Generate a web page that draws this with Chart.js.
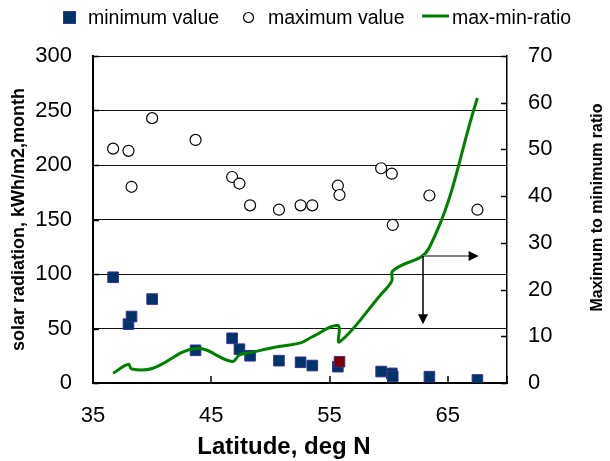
<!DOCTYPE html>
<html>
<head>
<meta charset="utf-8">
<script src="https://cdn.jsdelivr.net/npm/chart.js@4.4.1/dist/chart.umd.min.js"></script>
<style>
  body { margin: 0; background: #fff; }
</style>
</head>
<body>
<canvas id="radChart" width="610" height="461"></canvas>
<script>
// station latitudes, deg N (sorted)
const latitudes = [36.7, 38.0, 38.26, 40.0, 43.67, 46.76, 47.38, 48.28, 50.72, 52.55, 53.54, 55.7, 55.84, 59.36, 60.26, 60.34, 63.44, 67.5];
// monthly solar radiation, kWh/m2,month
const minValues = [97, 54, 61, 77, 30, 41, 31, 25, 20.5, 19, 16, 15, 19.5, 10.5, 8.8, 6.1, 5.8, 2.8];
const maxValues = [215, 213, 180, 243, 223, 189, 183, 163, 159, 163, 163, 181, 172.5, 197, 192, 145, 172, 159];
// max/min ratio as drawn (right axis)
const ratioValues = [2.1, 4.0, 3.0, 3.1, 7.4, 4.6, 6.0, 6.5, 7.8, 8.6, 9.9, 12.3, 8.8, 19.0, 21.8, 24.0, 29.0, 61.0];
const xTicks = [35, 45, 55, 65];
const highlightLat = 55.84; // red marker

// arrow annotation (data units)
const arrowFrom = { lat: 62.9, ratio: 27.2 };
const arrowRightTo = 67.6;   // lat
const arrowDownTo = 54;      // left axis value

const FONT = "'Liberation Sans', Arial, sans-serif";

const toPoints = (vals) => latitudes.map((lat, i) => ({ x: lat, y: vals[i] }));

// inward tick marks, arrows, axis titles, legend
const extras = {
    id: 'extras',
    afterDraw(chart) {
        const ctx = chart.ctx;
        const a = chart.chartArea;
        const x = chart.scales.x, y = chart.scales.y, y2 = chart.scales.y2;
        ctx.save();
        ctx.strokeStyle = '#000';
        ctx.lineWidth = 1.5;
        ctx.beginPath();
        y.ticks.forEach(t => { const p = Math.round(y.getPixelForValue(t.value)) + 0.5; ctx.moveTo(a.left, p); ctx.lineTo(a.left + 6, p); });
        y2.ticks.forEach(t => { const p = Math.round(y2.getPixelForValue(t.value)) + 0.5; ctx.moveTo(a.right - 6, p); ctx.lineTo(a.right, p); });
        xTicks.concat([70]).forEach(v => { const p = Math.round(x.getPixelForValue(v)); ctx.moveTo(p, a.bottom); ctx.lineTo(p, a.bottom - 7); });
        ctx.stroke();

        // arrows
        const ax = x.getPixelForValue(arrowFrom.lat), ay = y2.getPixelForValue(arrowFrom.ratio);
        const rx = x.getPixelForValue(arrowRightTo), dy = y.getPixelForValue(arrowDownTo);
        ctx.strokeStyle = '#808080';
        ctx.lineWidth = 2;
        ctx.beginPath(); ctx.moveTo(ax, ay); ctx.lineTo(rx - 9, ay); ctx.stroke();
        ctx.strokeStyle = '#000';
        ctx.lineWidth = 1.5;
        ctx.beginPath(); ctx.moveTo(ax, ay); ctx.lineTo(ax, dy - 9); ctx.stroke();
        ctx.fillStyle = '#000';
        ctx.beginPath(); ctx.moveTo(rx, ay); ctx.lineTo(rx - 10, ay - 5); ctx.lineTo(rx - 10, ay + 5); ctx.closePath(); ctx.fill();
        ctx.beginPath(); ctx.moveTo(ax, dy); ctx.lineTo(ax - 5, dy - 10); ctx.lineTo(ax + 5, dy - 10); ctx.closePath(); ctx.fill();

        // x axis title (sits a little left of centre)
        ctx.font = 'bold 24px ' + FONT;
        ctx.textAlign = 'center';
        ctx.textBaseline = 'middle';
        ctx.fillText('Latitude, deg N', 284, 447);

        // right axis title, reads bottom to top
        ctx.save();
        ctx.translate(598, (a.top + a.bottom) / 2 - 12);
        ctx.rotate(-Math.PI / 2);
        ctx.font = 'bold 16px ' + FONT;
        ctx.fillText('Maximum to minimum ratio', 0, 0);
        ctx.restore();

        // legend
        ctx.font = '19.5px ' + FONT;
        ctx.textBaseline = 'alphabetic';
        ctx.textAlign = 'left';
        ctx.fillStyle = '#003366';
        ctx.strokeStyle = '#333399';
        ctx.lineWidth = 1;
        ctx.fillRect(63.5, 11.5, 12, 12);
        ctx.strokeRect(63.5, 11.5, 12, 12);
        ctx.fillStyle = '#000';
        ctx.fillText('minimum value', 88, 24);
        ctx.beginPath(); ctx.arc(248.5, 17.5, 5, 0, Math.PI * 2);
        ctx.fillStyle = '#fff'; ctx.fill();
        ctx.strokeStyle = '#000'; ctx.lineWidth = 1.2; ctx.stroke();
        ctx.fillStyle = '#000';
        ctx.fillText('maximum value', 268, 24);
        ctx.strokeStyle = '#008000'; ctx.lineWidth = 3;
        ctx.beginPath(); ctx.moveTo(422, 16); ctx.lineTo(449, 16); ctx.stroke();
        ctx.fillText('max-min-ratio', 452, 24);
        ctx.restore();
    }
};

new Chart(document.getElementById('radChart').getContext('2d'), {
    type: 'scatter',
    data: {
        datasets: [{
            label: 'minimum value',
            data: toPoints(minValues),
            yAxisID: 'y',
            pointStyle: 'rect',
            pointRadius: 7.5,
            pointHoverRadius: 7.5,
            pointBackgroundColor: latitudes.map(l => l === highlightLat ? '#800000' : '#003366'),
            pointBorderColor: '#333399',
            pointBorderWidth: 1,
            order: 2
        }, {
            label: 'maximum value',
            data: toPoints(maxValues),
            yAxisID: 'y',
            pointStyle: 'circle',
            pointRadius: 5.5,
            pointBackgroundColor: '#fff',
            pointBorderColor: '#000',
            pointBorderWidth: 1.2,
            order: 1
        }, {
            label: 'max-min-ratio',
            data: toPoints(ratioValues),
            yAxisID: 'y2',
            showLine: true,
            tension: 0.4,
            borderColor: '#008000',
            borderWidth: 3,
            pointRadius: 0,
            order: 0
        }]
    },
    options: {
        responsive: false,
        animation: false,
        layout: { padding: { top: 56, left: 0, right: 0, bottom: 0 } },
        plugins: {
            legend: { display: false },
            tooltip: { enabled: false }
        },
        scales: {
            x: {
                type: 'linear',
                min: 35,
                max: 70,
                afterBuildTicks: (s) => { s.ticks = xTicks.map(v => ({ value: v })); },
                afterFit: (s) => { s.height = 78; },
                grid: { display: false, drawTicks: false },
                border: { color: '#000', width: 2 },
                ticks: { padding: 20, color: '#000', font: { family: FONT, size: 22 } }
            },
            y: {
                position: 'left',
                min: 0,
                max: 300,
                ticks: { stepSize: 50, padding: 21, color: '#000', font: { family: FONT, size: 22 } },
                afterFit: (s) => { s.width = 93; },
                grid: { color: '#111', lineWidth: 1, drawTicks: false },
                border: { color: '#000', width: 2 },
                title: {
                    display: true, text: 'solar radiation, kWh/m2,month', color: '#000',
                    padding: { top: 8, bottom: 0 }, font: { family: FONT, size: 18, weight: 'bold' }
                }
            },
            y2: {
                position: 'right',
                min: 0,
                max: 70,
                ticks: { stepSize: 10, padding: 21, color: '#000', font: { family: FONT, size: 22 } },
                afterFit: (s) => { s.width = 103; },
                grid: { display: false, drawTicks: false },
                border: { color: '#000', width: 1.5 }
            }
        }
    },
    plugins: [extras]
});
</script>
</body>
</html>
